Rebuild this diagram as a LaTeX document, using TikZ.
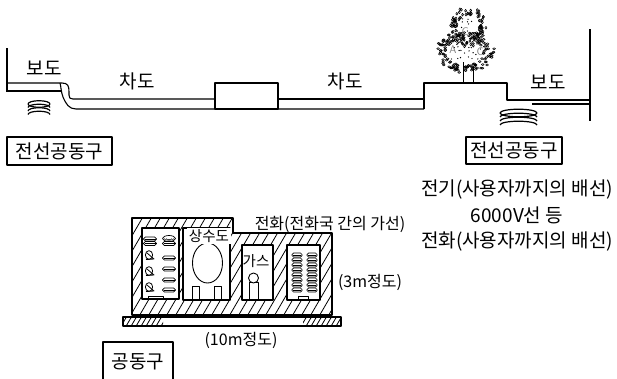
\documentclass[tikz,border=0pt]{standalone}
\usepackage{fontspec}
\setmainfont{Noto Sans CJK KR}
\begin{document}
\begin{tikzpicture}[x=1pt,y=-1pt,line width=1.1pt,line join=round,
  lbl/.style={font=\fontsize{19}{21}\selectfont,inner sep=0pt},
  small/.style={font=\fontsize{14.5}{16}\selectfont,inner sep=0pt},
  mid/.style={font=\fontsize{16}{18}\selectfont,inner sep=0pt},
  tagbox/.style={draw,line width=1.1pt,font=\fontsize{19}{21}\selectfont,inner sep=0pt},
  hatch/.style={line width=0.8pt},
  leaf/.style={line width=0.55pt},
  cable/.style={line width=0.7pt,rounded corners=1.8pt},
  plate/.style={line width=1.2pt}]
\useasboundingbox (0,0) rectangle (617,378);

% ---------- street cross-section ----------
% left sidewalk and curb
\draw (7,48) -- (7,92);
\draw (7,83) -- (62,83) .. controls (68,83) and (69,86) .. (69,92)
      -- (69,95) .. controls (69,98) and (70,99) .. (73,99) -- (215,99);
\draw (7,91) -- (61,91);
\draw (60,83) .. controls (61,86) and (61,92) .. (63,97)
      .. controls (66,104) and (69,109) .. (76,109) -- (424,109);
% small box in the roadway
\draw (215,83) rectangle (278,109);
\draw (278,99) -- (424,99);
% raised planting strip and right sidewalk
\draw (424,109) -- (424,83) -- (507,83) -- (507,100) -- (590,100);
\draw (532,104) -- (590,104);
\draw (590,29) -- (590,121);

% roadside tree
\draw[line width=0.8pt] (463,62) -- (463,83);
\draw[line width=0.8pt] (473,67) -- (473,83);
\pgfmathsetseed{11}
% foliage: dense rim of small leaf loops, sparser inside
\foreach \i in {1,...,150}{
  \pgfmathsetmacro\t{rnd*360}
  \pgfmathsetmacro\r{0.62+0.38*rnd}
  \pgfmathsetmacro\px{465+30*\r*cos(\t)}
  \pgfmathsetmacro\py{52+21*\r*sin(\t)}
  \draw[leaf] (\px,\py) ellipse (1.4 and 1.0);
}
\foreach \i in {1,...,100}{
  \pgfmathsetmacro\t{rnd*360}
  \pgfmathsetmacro\r{0.62+0.38*rnd}
  \pgfmathsetmacro\px{468+18*\r*cos(\t)}
  \pgfmathsetmacro\py{27+20*\r*sin(\t)}
  \draw[leaf] (\px,\py) ellipse (1.0 and 1.4);
}
\foreach \i in {1,...,45}{
  \pgfmathsetmacro\t{rnd*360}
  \pgfmathsetmacro\r{0.2+0.6*rnd}
  \pgfmathsetmacro\px{466+26*\r*cos(\t)}
  \pgfmathsetmacro\py{42+30*\r*sin(\t)}
  \fill (\px,\py) circle (0.7);
}
\node[text=gray,font=\sffamily\fontsize{11}{11}\selectfont,inner sep=0pt] (tc1) at (465,32) {C};
\node[text=gray,font=\sffamily\fontsize{11}{11}\selectfont,inner sep=0pt] (ta) at (453,50) {A};
\node[text=gray,font=\sffamily\fontsize{11}{11}\selectfont,inner sep=0pt] (tc2) at (480,52) {C};

% cable manholes
\foreach \y/\k in {104/0,107.5/1,111/1,114.5/1}{
  \ifnum\k=0 \draw[plate] (39,\y) ellipse (11 and 3.3);
  \else \draw[plate] (28,\y) arc (180:360:11 and 3.3); \fi
}
\foreach \y/\k in {113/0,117/1,121/1,125/1}{
  \ifnum\k=0 \draw[plate] (518.5,\y) ellipse (18.5 and 3.8);
  \else \draw[plate] (500,\y) arc (180:360:18.5 and 3.8); \fi
}

% labels of the street section
\node[lbl] (bl) at (44,68) {보도};
\node[lbl] (cl) at (137,81) {차도};
\node[lbl] (cr) at (345,81) {차도};
\node[lbl] (br) at (548,82) {보도};
\node[tagbox,minimum width=105pt,minimum height=28pt] (ductL) at (59.5,151) {전선공동구};
\node[tagbox,minimum width=96pt,minimum height=27pt] (ductR) at (514,150.5) {전선공동구};
\node[lbl] (use1) at (517,189) {전기(사용자까지의 배선)};
\node[lbl] (use2) at (517,215) {6000V선 등};
\node[lbl] (use3) at (517,241) {전화(사용자까지의 배선)};

% ---------- utility tunnel section ----------
\begin{scope}
  \clip (132,218) -- (233,218) -- (233,233) -- (332,233) -- (332,315) -- (132,315) -- cycle;
  \foreach \x in {50,59,...,420} \draw[hatch] (\x,330) -- ++(70,-120);
\end{scope}
\draw (132,218) -- (233,218) -- (233,233) -- (332,233) -- (332,315) -- (132,315) -- cycle;

% base slab
\draw (123,317) rectangle (341,326);
\begin{scope}
  \clip (123,317) rectangle (163,326);
  \foreach \x in {110,115,...,170} \draw[hatch] (\x,328) -- ++(7,-12);
\end{scope}
\begin{scope}
  \clip (303,317) rectangle (341,326);
  \foreach \x in {290,295,...,345} \draw[hatch] (\x,328) -- ++(7,-12);
\end{scope}

% power cable room
\draw[fill=white] (142,228) rectangle (179,299);
\foreach \cx/\cy in {150/239,150/243.5,169/243.5,169/258,169/269,169/280,169/290}{
  \draw[cable] (\cx-6.5,\cy-2) rectangle (\cx+6.5,\cy+2);
  \draw[line width=0.5pt] (\cx-5.5,\cy) -- (\cx+5.5,\cy);
}
\foreach \cy in {255,271,287}{
  \draw[line width=0.8pt] (149,\cy) ellipse (3.6 and 4.4);
  \draw[line width=0.8pt] (147,\cy-2) -- (154,\cy+4) -- (146,\cy+4.5);
}
\draw[line width=0.7pt] (169,238.5) ellipse (6.5 and 3);
\draw[line width=0.5pt] (164,238.5) arc (180:0:5 and 1.8);
\draw[line width=0.5pt] (166,238.5) arc (180:0:3 and 1);
\draw[line width=0.7pt] (148,296) rectangle (163,299);

% water main room
\draw[fill=white] (183,228) rectangle (230,300);
\draw[line width=0.9pt] (207.5,263) ellipse (15 and 20);
\draw[line width=0.9pt] (192,300) -- (192,286) -- (199,286) -- (199,300);
\draw[line width=0.9pt] (214,300) -- (214,286) -- (221,286) -- (221,300);
\node[small,fill=white,inner xsep=2pt,inner ysep=1pt] (water) at (209,236) {상수도};

% gas room
\draw[fill=white] (242,245) rectangle (273,300);
\node[small] (gas) at (256,261) {가스};
\draw[line width=0.9pt] (249,300) -- (249,282) -- (258,282) -- (258,300);
\draw[line width=0.9pt,fill=white] (253.5,278) circle (5);

% telephone cable room
\draw[fill=white] (287,245) rectangle (320,300);
\foreach \cy in {255,260,...,290}{
  \foreach \cx in {297,312}{
    \draw[cable,rounded corners=1.5pt] (\cx-5,\cy-2) rectangle (\cx+5,\cy+2);
    \draw[line width=0.4pt] (\cx-4,\cy) -- (\cx+4,\cy);
  }
}
\draw[line width=0.7pt] (298,296) rectangle (308,299);

% tunnel labels
\node[mid,fill=white,inner xsep=2pt] (phone) at (330,224) {전화(전화국 간의 가선)};
\node[mid] (height) at (370,282) {(3m정도)};
\node[mid] (width) at (241,340) {(10m정도)};
\node[tagbox,minimum width=70pt,minimum height=40pt] (tunnel) at (138,362) {공동구};
\end{tikzpicture}
\end{document}
